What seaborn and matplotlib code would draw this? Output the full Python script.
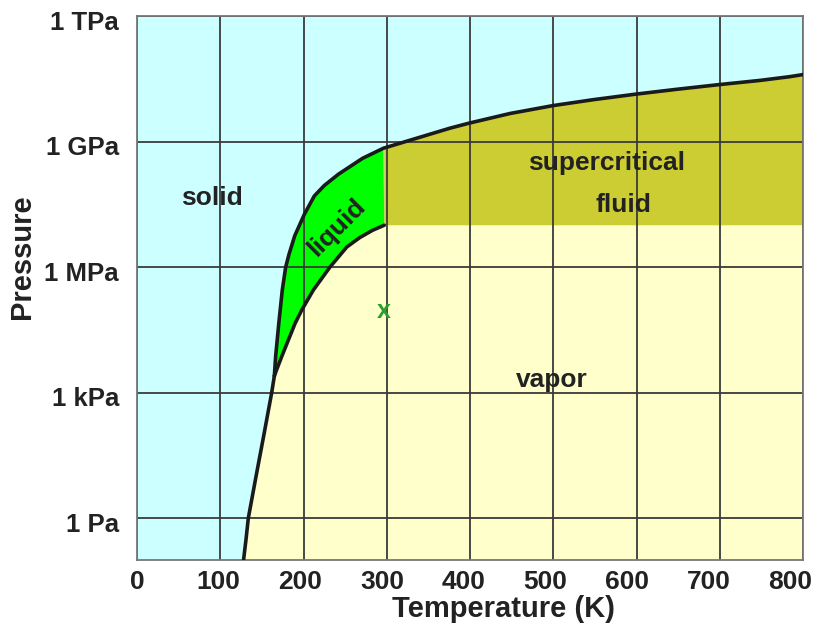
import numpy as np
import pandas as pd
import seaborn as sns
import matplotlib.pyplot as plt
from matplotlib.transforms import ScaledTranslation

# phase boundaries (T in K, pressure as log10(Pa))
sub_T = [128, 131, 133.7, 143, 152.5, 161.8, 165]
sub_logP = [-1, -0.5, 0, 1, 2, 3, 3.4]

melt_T = [165, 166.5, 170.3, 174.5, 178.6, 182.5, 189.5, 201, 213, 225, 242, 271, 296,
          316, 336, 356, 376, 399, 448, 500, 548, 598, 649, 699, 748, 784, 800]
melt_logP = [3.4, 3.86, 4.65, 5.45, 6.0, 6.3, 6.75, 7.26, 7.7, 7.95, 8.22, 8.6, 8.84,
             8.96, 9.08, 9.2, 9.32, 9.44, 9.67, 9.86, 10.0, 10.13, 10.25, 10.36, 10.46, 10.55, 10.6]

vap_T = [165, 167.8, 173.8, 181.7, 189.8, 197.8, 211.8, 231.8, 252, 268, 283, 297]
vap_logP = [3.4, 3.55, 3.86, 4.25, 4.65, 4.97, 5.45, 6.0, 6.48, 6.71, 6.88, 7.0]

crit_T = 297
crit_logP = 7.0

x_ticks = [0, 100, 200, 300, 400, 500, 600, 700, 800]
y_ticks = [1, 1e3, 1e6, 1e9, 1e12]
y_tick_labels = ["1 Pa", "1 kPa", "1 MPa", "1 GPa", "1 TPa"]

T_min, T_max = 0, 800
P_min, P_max = 0.1, 1e12

# colours
c_solid = "#CCFFFF"
c_vapor = "#FFFFCC"
c_liquid = "#00FF00"
c_super = "#CCCC33"
c_text = "#222222"

sns.set_theme(style="white")
plt.rcParams["font.family"] = ["Liberation Sans", "DejaVu Sans"]
plt.rcParams["font.weight"] = "bold"

fig = plt.figure(figsize=(8.14, 6.23), dpi=100)
ax = fig.add_axes([137 / 814, 1 - 560 / 623, 666 / 814, 544 / 623])
ax.set_facecolor(c_solid)

sub = pd.DataFrame({"T": sub_T, "P": 10 ** np.array(sub_logP)})
melt = pd.DataFrame({"T": melt_T, "P": 10 ** np.array(melt_logP)})
vap = pd.DataFrame({"T": vap_T, "P": 10 ** np.array(vap_logP)})
Pc = 10 ** crit_logP

# vapor region: under sublimation + vaporization curve, and under Pc past the critical point
vx = sub_T + vap_T[1:] + [T_max, T_max]
vy = list(sub["P"]) + list(vap["P"][1:]) + [Pc, P_min]
vx = [sub_T[0]] + vx
vy = [P_min] + vy
ax.fill(vx, vy, color=c_vapor, lw=0, zorder=0.2)

# liquid: between vaporization and melting curve up to critical T
m_low = melt[melt["T"] <= crit_T]
lx = list(vap["T"]) + list(m_low["T"][::-1])
ly = list(vap["P"]) + list(m_low["P"][::-1])
ax.fill(lx, ly, color=c_liquid, lw=0, zorder=0.2)

# supercritical fluid: right of critical T, above Pc, below melting curve
m_high = melt[melt["T"] >= crit_T]
sx = [crit_T, T_max] + list(m_high["T"][::-1]) + [crit_T]
sy = [Pc, Pc] + list(m_high["P"][::-1]) + [10 ** 8.84]
ax.fill(sx, sy, color=c_super, lw=0, zorder=0.2)

for d in [sub, melt, vap]:
    sns.lineplot(data=d, x="T", y="P", ax=ax, color="#1a1a1a", lw=2.6, sort=False, zorder=3)

ax.set_yscale("log")
ax.set_xlim(T_min, T_max)
ax.set_ylim(P_min, P_max)
ax.set_xticks(x_ticks)
ax.set_yticks(y_ticks)
ax.set_yticklabels(y_tick_labels)
ax.minorticks_off()

ax.set_axisbelow(True)
ax.grid(True, color="#3a3a3a", lw=1.3)
for s in ax.spines.values():
    s.set_color("#777777")
    s.set_linewidth(1.3)

ax.tick_params(axis="x", labelsize=19, colors=c_text, length=3, width=1, color="#777777", pad=4)
ax.tick_params(axis="y", labelsize=18.5, colors=c_text, length=3, width=1, color="#777777", pad=10)
for lab in ax.get_xticklabels() + ax.get_yticklabels():
    lab.set_fontweight("bold")

# the x labels drift a little to the left in the original, so the 800 stays inside
for i, lab in enumerate(ax.get_xticklabels()):
    lab.set_transform(lab.get_transform() + ScaledTranslation(-1.15 * i / 72, 0, fig.dpi_scale_trans))
for lab in ax.get_yticklabels():
    lab.set_transform(lab.get_transform() + ScaledTranslation(0, -3 / 72, fig.dpi_scale_trans))

ax.set_xlabel("Temperature (K)", fontsize=21, fontweight="bold", color=c_text, x=0.55, labelpad=1)
ax.set_ylabel("Pressure", fontsize=21, fontweight="bold", color=c_text, y=0.557, labelpad=6)

lbl = dict(fontsize=19, fontweight="bold", color=c_text, ha="center", va="center", zorder=4)
ax.text(90, 10 ** 7.66, "solid", **lbl)
ax.text(564, 10 ** 8.48, "supercritical", **lbl)
ax.text(584, 10 ** 7.48, "fluid", **lbl)
ax.text(498, 10 ** 3.3, "vapor", **lbl)
ax.text(240, 10 ** 6.95, "liquid", rotation=45, **lbl)
ax.text(296, 10 ** 4.95, "x", fontsize=18, fontweight="bold", color="#2E9E2E",
        ha="center", va="center", zorder=4)

fig.savefig("out.png", dpi=100)
